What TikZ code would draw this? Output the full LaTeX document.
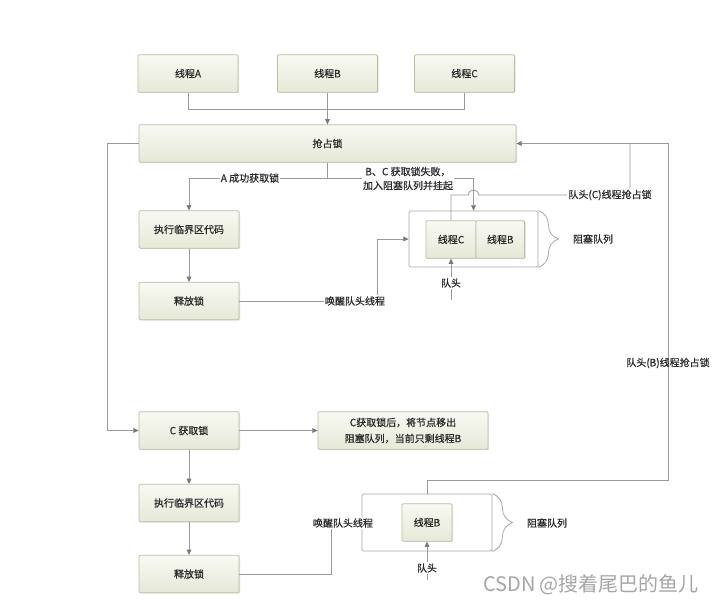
\documentclass[tikz,border=0pt]{standalone}
\usepackage{fontspec}
\setmainfont{Noto Sans CJK SC}[BoldFont={Noto Sans CJK SC}, BoldFeatures={FakeBold=0.5}]
\usetikzlibrary{arrows.meta,decorations.pathreplacing,shadows}
\definecolor{boxedge}{HTML}{B8BEA0}
\definecolor{boxtop}{HTML}{F8F9F3}
\definecolor{boxbot}{HTML}{E5E9D7}
\definecolor{linec}{HTML}{9A9A9A}
\definecolor{tipc}{HTML}{7A7A7A}
\definecolor{txt}{HTML}{2A2A2A}
\definecolor{qedge}{HTML}{A8A8A8}
\begin{document}
\begin{tikzpicture}[x=0.75pt,y=-0.75pt,
  font=\fontsize{7.5}{10}\selectfont\bfseries, text=txt,
  gbox/.style={draw=boxedge, line width=0.6pt, top color=boxtop, bottom color=boxbot,
    minimum width=75pt, minimum height=28pt, inner sep=0pt, rounded corners=0.8pt,
    drop shadow={shadow xshift=0.8pt, shadow yshift=-0.8pt, fill=black!15, opacity=0.7}},
  qbox/.style={draw=qedge, line width=0.6pt, fill=white, rounded corners=1pt, inner sep=0pt},
  ln/.style={draw=linec, line width=0.6pt},
  arr/.style={ln, -{Triangle[length=4pt,width=3.6pt,color=tipc]}},
  lbl/.style={fill=white, inner sep=1pt},
  brc/.style={decorate, decoration={brace, amplitude=15pt}, draw=qedge, line width=0.6pt}]
\fill[white] (0,0) rectangle (712,604);
\useasboundingbox (0,0) rectangle (712,604);

% nodes
\node[gbox] (tA) at (188,73.5) {线程A};
\node[gbox] (tB) at (327.5,73.5) {线程B};
\node[gbox] (tC) at (464.5,73.5) {线程C};
\node[gbox, minimum width=282.75pt] (lock) at (327.5,143.5) {抢占锁};
\node[gbox] (exec1) at (189,229.5) {执行临界区代码};
\node[gbox] (rel1) at (189,301) {释放锁};
\node[qbox, minimum width=96.75pt, minimum height=42pt] (q1) at (473.5,239) {};
\node[gbox, minimum width=37.5pt, drop shadow={opacity=0}] (qC) at (451,239.5) {线程C};
\node[gbox, minimum width=36.5pt, drop shadow={opacity=0}] (qB) at (500.3,239.5) {线程B};
\node[gbox] (cget) at (189,430.5) {C 获取锁};
\node[gbox, minimum width=127.5pt, align=center, font=\fontsize{7.5}{12}\selectfont\bfseries] (note) at (403,430.5) {C获取锁后，将节点移出\\阻塞队列，当前只剩线程B};
\node[gbox] (exec2) at (189,503) {执行临界区代码};
\node[gbox] (rel2) at (189,574) {释放锁};
\node[qbox, minimum width=97.5pt, minimum height=42.75pt] (q2) at (427,522.5) {};
\node[gbox, minimum width=37.5pt, drop shadow={opacity=0}] (qB2) at (427,522.5) {线程B};

% coordinates
\coordinate (j) at (327.5,109);
\coordinate (sp) at (327.5,178);
\coordinate (k1) at (377,239);
\coordinate (h1) at (451,300);
\coordinate (c1) at (451,195);
\coordinate (c2) at (630,195);
\coordinate (m) at (630,143.5);
\coordinate (b1) at (427,480);
\coordinate (b3) at (668,143.5);
\coordinate (l1) at (107,143.5);
\coordinate (k2) at (331,522.5);
\coordinate (h2) at (427,580);

% connectors
\draw[ln] (tA.south) |- (j);
\draw[ln] (tC.south) |- (j);
\draw[arr] (tB.south) -- (lock.north);
\draw[ln] (lock.south) -- (sp);
\draw[arr] (sp) -| (exec1.north);
\draw[arr] (sp) -| (q1.north);
\draw[arr] (exec1.south) -- (rel1.north);
\draw[arr] (rel1.east) -| (k1) -- (q1.west);
\draw[arr] (h1) -- (qC.south);
\draw[ln] (qC.north) -- (c1) -- (468.5,195) .. controls (468.5,188.3) and (478.5,188.3) .. (478.5,195) -- (c2) -- (m);
\draw[arr] (q2.north) -- (b1) -| (b3) -- (lock.east);
\draw[arr] (lock.west) -- (l1) |- (cget.west);
\draw[arr] (cget.east) -- (note.west);
\draw[arr] (cget.south) -- (exec2.north);
\draw[arr] (exec2.south) -- (rel2.north);
\draw[arr] (rel2.east) -| (k2) -- (q2.west);
\draw[arr] (h2) -- (qB2.south);
\draw[brc] (q1.north east) -- (q1.south east);
\draw[brc] (q2.north east) -- (q2.south east);

% labels
\node[lbl] (la) at (250,178) {A 成功获取锁};
\node[lbl, align=center, font=\fontsize{7.5}{10.5}\selectfont\bfseries] (lbc) at (408,178.5) {B、C 获取锁失败，\\加入阻塞队列并挂起};
\node[lbl] (lw1) at (355,301) {唤醒队头线程};
\node[lbl] (lh1) at (451,283) {队头};
\node[lbl] (lcc) at (610,195) {队头(C)线程抢占锁};
\node (lbb) at (668,363) {队头(B)线程抢占锁};
\node[lbl] (lw2) at (343,523) {唤醒队头线程};
\node[lbl] (lh2) at (427,568) {队头};
\node (lq1) at (593,239) {阻塞队列};
\node (lq2) at (547,523) {阻塞队列};
\node[text=black!35, font=\fontsize{15}{18}\selectfont\mdseries] (wm) at (591,585) {CSDN @搜着尾巴的鱼儿};
\end{tikzpicture}
\end{document}
